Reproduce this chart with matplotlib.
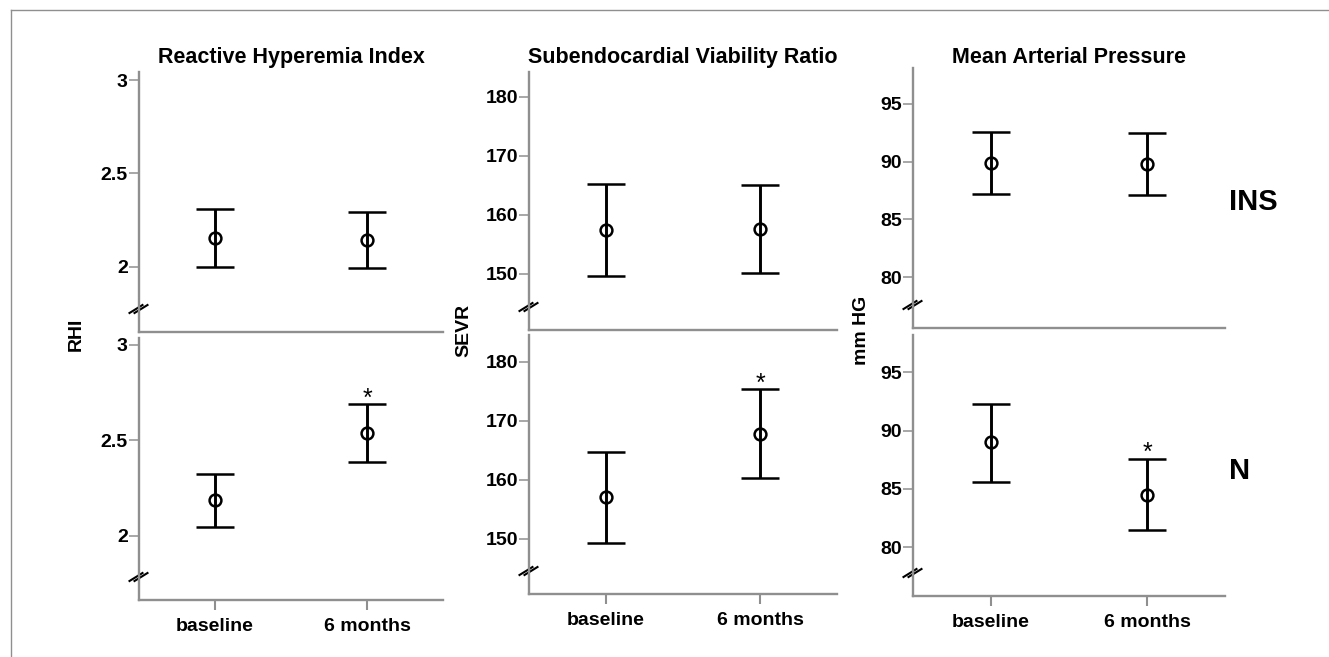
import matplotlib
matplotlib.use("Agg")
import matplotlib.pyplot as plt
import matplotlib.transforms as mtransforms
from matplotlib.lines import Line2D

plt.rcParams['font.family'] = ['Liberation Sans', 'DejaVu Sans']
plt.rcParams['font.weight'] = 'bold'

groups = ["baseline", "6 months"]
titles = ["Reactive Hyperemia Index", "Subendocardial Viability Ratio", "Mean Arterial Pressure"]
ylabels = ["RHI", "SEVR", "mm HG"]
row_labels = ["INS", "N"]

# mean, lower and upper error limits, per row (INS, N)
rhi_mean = [[2.157, 2.144], [2.186, 2.537]]
rhi_low = [[2.002, 1.996], [2.047, 2.386]]
rhi_high = [[2.309, 2.293], [2.322, 2.687]]

sevr_mean = [[157.5, 157.6], [157.0, 167.7]]
sevr_low = [[149.6, 150.2], [149.3, 160.2]]
sevr_high = [[165.2, 165.1], [164.6, 175.3]]

map_mean = [[89.9, 89.8], [89.0, 84.5]]
map_low = [[87.2, 87.1], [85.6, 81.5]]
map_high = [[92.6, 92.5], [92.3, 87.6]]

# significance marks (row, group)
signif = [[False, False], [False, True]]

rhi_ticks = [2, 2.5, 3]
rhi_ticklabels = ["2", "2.5", "3"]
sevr_ticks = [150, 160, 170, 180]
map_ticks = [80, 85, 90, 95]

W, H = 1329, 657
fig = plt.figure(figsize=(W / 100, H / 100), dpi=100)

GRAY = "#8f8f8f"


def px_rect(x0, x1, ytop, ybot):
    return [x0 / W, 1 - ybot / H, (x1 - x0) / W, (ybot - ytop) / H]


# axes boxes in pixels: (x0, x1, ytop, ybot) for top row and bottom row
boxes = [
    [(139, 443, 72, 332), (139, 443, 338, 600)],
    [(529, 837, 72, 330), (529, 837, 335, 594)],
    [(913, 1225, 68, 328), (913, 1225, 335, 596)],
]
ylims = [
    [(1.652, 3.043), (1.663, 3.035)],
    [(140.5, 184.2), (140.6, 184.5)],
    [(75.6, 98.1), (75.8, 98.2)],
]
panel_data = [
    (rhi_mean, rhi_low, rhi_high, rhi_ticks, rhi_ticklabels),
    (sevr_mean, sevr_low, sevr_high, sevr_ticks, [str(t) for t in sevr_ticks]),
    (map_mean, map_low, map_high, map_ticks, [str(t) for t in map_ticks]),
]


def break_marks(ax):
    # little "//" on the y axis, in pixel offsets from the axes origin
    trans = fig.dpi_scale_trans + mtransforms.ScaledTranslation(0, 0, ax.transAxes)
    for dx in (-2.5, 2.5):
        xs = [(-7 + dx) / 100, (6 + dx) / 100]
        ys = [19 / 100, 27 / 100]
        ax.add_line(Line2D(xs, ys, transform=trans, color="black", lw=1.5,
                           clip_on=False))


for col in range(3):
    mean, low, high, ticks, ticklabels = panel_data[col]
    for row in range(2):
        ax = fig.add_axes(px_rect(*boxes[col][row]))
        xs = list(range(len(groups)))
        m = mean[row]
        err = [[m[i] - low[row][i] for i in xs], [high[row][i] - m[i] for i in xs]]
        ax.errorbar(xs, m, yerr=err, fmt="o", color="black", ecolor="black",
                    elinewidth=2.1, capsize=14, capthick=2.1, markersize=8.5,
                    markerfacecolor="none", markeredgewidth=1.8)
        for i in xs:
            if signif[row][i]:
                ax.annotate("*", (i, high[row][i]), xytext=(0, -1),
                            textcoords="offset points", ha="center",
                            va="baseline", fontsize=18, fontweight="normal")
        ax.set_xlim(-0.5, 1.5)
        ax.set_ylim(*ylims[col][row])
        ax.set_yticks(ticks)
        ax.set_yticklabels(ticklabels)
        for s in ("top", "right"):
            ax.spines[s].set_visible(False)
        for s in ("left", "bottom"):
            ax.spines[s].set_color(GRAY)
            ax.spines[s].set_linewidth(1.7)
        ax.tick_params(axis="y", colors=GRAY, labelcolor="black", length=7,
                       width=1.1, pad=1, labelsize=14)
        if row == 1:
            ax.set_xticks(xs)
            ax.set_xticklabels(groups)
            ax.tick_params(axis="x", colors=GRAY, labelcolor="black", length=7,
                           width=1.5, pad=6, labelsize=14)
        else:
            ax.set_xticks([])
        for lab in ax.get_xticklabels() + ax.get_yticklabels():
            lab.set_fontweight("bold")
        break_marks(ax)

    x0, x1 = boxes[col][0][0], boxes[col][0][1]
    fig.text((x0 + x1) / 2 / W, 1 - 63 / H, titles[col], ha="center",
             va="baseline", fontsize=15.5, fontweight="bold")

# y axis labels
ylabel_pos = [(76, 334), (464, 330), (862, 330)]
for (px, py), lab in zip(ylabel_pos, ylabels):
    fig.text(px / W, 1 - py / H, lab, rotation=90, ha="center", va="center",
             fontsize=14, fontweight="bold")

# row labels
fig.text(1229 / W, 1 - 202 / H, row_labels[0], ha="left", va="center",
         fontsize=21, fontweight="bold")
fig.text(1229 / W, 1 - 471 / H, row_labels[1], ha="left", va="center",
         fontsize=21, fontweight="bold")

# outer frame (left and top edges)
fig.add_artist(Line2D([11 / W, 11 / W], [0, 1 - 10 / H], color=GRAY, lw=1.0))
fig.add_artist(Line2D([11 / W, 1], [1 - 10 / H, 1 - 10 / H], color=GRAY, lw=1.0))

fig.savefig("out.png", dpi=100)
